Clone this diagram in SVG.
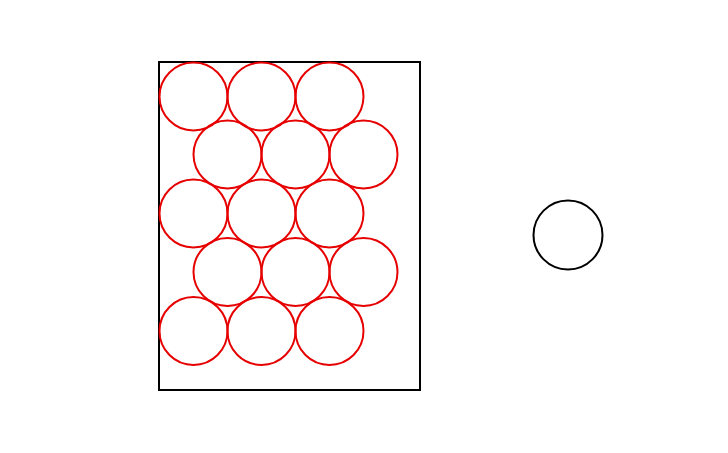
<svg xmlns="http://www.w3.org/2000/svg" width="728" height="453" viewBox="0 0 728 453">
<style>
.c{fill:none;stroke:#e60000;stroke-width:2}
.b{fill:none;stroke:#000;stroke-width:2}
</style>
<rect width="728" height="453" fill="#fff"/>
<rect class="b" x="159" y="62" width="261" height="328"/>
<g id="circles">
<circle class="c" cx="193.5" cy="96.5" r="34"/>
<circle class="c" cx="261.5" cy="96.5" r="34"/>
<circle class="c" cx="329.5" cy="96.5" r="34"/>
<circle class="c" cx="227.5" cy="154.5" r="34"/>
<circle class="c" cx="295.5" cy="154.5" r="34"/>
<circle class="c" cx="363.5" cy="154.5" r="34"/>
<circle class="c" cx="193.5" cy="213.5" r="34"/>
<circle class="c" cx="261.5" cy="213.5" r="34"/>
<circle class="c" cx="329.5" cy="213.5" r="34"/>
<circle class="c" cx="227.5" cy="272" r="34"/>
<circle class="c" cx="295.5" cy="272" r="34"/>
<circle class="c" cx="363.5" cy="272" r="34"/>
<circle class="c" cx="193.5" cy="331" r="34"/>
<circle class="c" cx="261.5" cy="331" r="34"/>
<circle class="c" cx="329.5" cy="331" r="34"/>
</g>
<circle class="b" cx="568" cy="235" r="34.5"/>
</svg>
